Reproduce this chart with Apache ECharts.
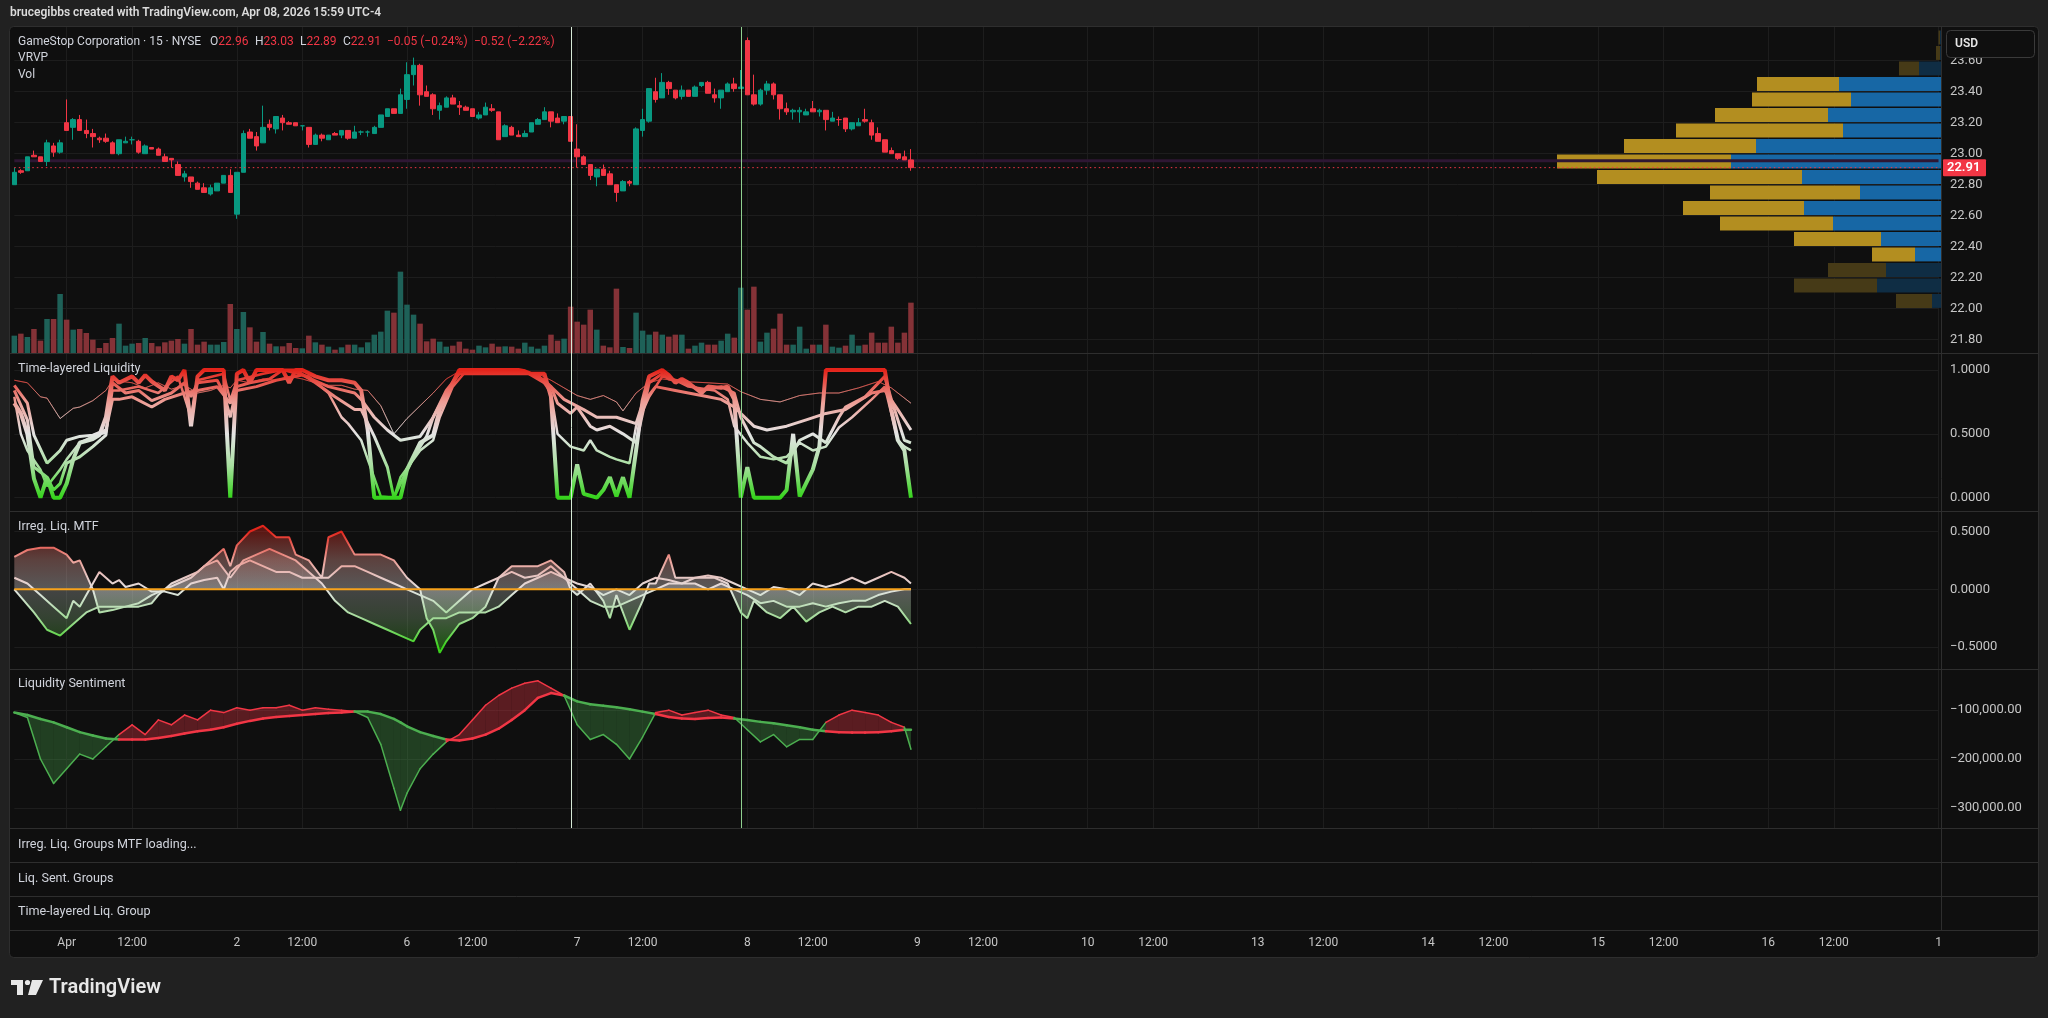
<!DOCTYPE html>
<html><head><meta charset="utf-8">
<script src="https://cdn.jsdelivr.net/npm/echarts@6/dist/echarts.min.js"></script>
<style>html,body{margin:0;padding:0;background:#212121;}#c{width:2048px;height:1018px;}#err{position:absolute;left:300px;top:300px;color:#ff0;font:14px monospace;white-space:pre;z-index:99}</style>
</head><body><div id="c"></div><div id="err"></div>
<script>
// ---------------- DATA ----------------
const opens = [22.80,22.89,22.89,22.99,22.98,22.95,23.05,23.01,23.20,23.17, 23.22,23.15,23.13,23.10,23.10,23.07,23.00,23.07,23.09,23.08, 23.00,23.04,23.03,22.98,22.97,22.93,22.85,22.85,22.81,22.78, 22.74,22.76,22.81,22.86,22.61,22.88,23.14,23.11,23.07,23.19, 23.16,23.23,23.20,23.20,23.18,23.17,23.06,23.12,23.09,23.13, 23.12,23.15,23.10,23.14,23.14,23.13,23.17,23.24,23.29,23.26, 23.35,23.51,23.57,23.40,23.38,23.28,23.30,23.36,23.31,23.30, 23.29,23.23,23.25,23.29,23.27,23.11,23.17,23.12,23.11,23.14, 23.19,23.22,23.27,23.23,23.21,23.24,23.03,22.98,22.93,22.85, 22.90,22.87,22.80,22.76,22.82,22.80,23.15,23.21,23.40,23.36, 23.46,23.41,23.37,23.41,23.37,23.44,23.46,23.38,23.36,23.40, 23.45,23.42,23.73,23.38,23.32,23.41,23.45,23.38,23.29,23.27, 23.27,23.25,23.29,23.27,23.28,23.21,23.22,23.23,23.16,23.18, 23.22,23.20,23.13,23.09,23.02,23.00,22.98,22.96];
const highs = [22.91,22.90,22.98,23.02,22.98,23.09,23.07,23.09,23.35,23.23, 23.25,23.22,23.16,23.11,23.13,23.08,23.09,23.11,23.11,23.09, 23.06,23.04,23.04,23.00,22.97,22.95,22.89,22.85,22.82,22.81, 22.80,22.81,22.86,22.90,22.88,23.15,23.16,23.14,23.31,23.22, 23.24,23.25,23.21,23.20,23.18,23.17,23.13,23.13,23.12,23.14, 23.15,23.15,23.18,23.15,23.15,23.18,23.25,23.29,23.29,23.42, 23.59,23.62,23.58,23.44,23.39,23.33,23.37,23.38,23.34,23.31, 23.29,23.27,23.33,23.32,23.27,23.19,23.18,23.15,23.15,23.20, 23.23,23.30,23.27,23.26,23.24,23.24,23.19,22.99,22.93,22.90, 22.93,22.89,22.80,22.83,22.83,23.17,23.29,23.42,23.49,23.52, 23.47,23.41,23.44,23.41,23.44,23.46,23.47,23.42,23.41,23.46, 23.49,23.54,23.75,23.51,23.42,23.47,23.46,23.38,23.33,23.29, 23.30,23.29,23.34,23.29,23.28,23.27,23.24,23.23,23.20,23.23, 23.29,23.22,23.17,23.09,23.04,23.00,23.02,23.03];
const lows = [22.80,22.87,22.89,22.98,22.95,22.92,22.98,23.00,23.15,23.09, 23.15,23.10,23.04,23.07,23.07,23.00,22.99,23.07,23.06,23.00, 23.00,23.03,22.99,22.95,22.91,22.86,22.82,22.78,22.77,22.75, 22.73,22.76,22.81,22.75,22.58,22.88,23.10,23.02,23.07,23.15, 23.13,23.15,23.19,23.18,23.15,23.04,23.06,23.08,23.09,23.12, 23.10,23.09,23.10,23.12,23.11,23.13,23.17,23.24,23.26,23.26, 23.29,23.44,23.31,23.37,23.25,23.22,23.30,23.32,23.25,23.28, 23.24,23.22,23.25,23.27,23.09,23.11,23.12,23.11,23.11,23.14, 23.19,23.22,23.17,23.20,23.19,23.08,22.91,22.93,22.83,22.79, 22.86,22.80,22.69,22.76,22.79,22.80,23.11,23.20,23.33,23.36, 23.38,23.35,23.35,23.37,23.37,23.43,23.39,23.33,23.29,23.40, 23.40,23.42,23.38,23.31,23.31,23.38,23.35,23.22,23.25,23.22, 23.20,23.25,23.27,23.24,23.15,23.21,23.18,23.14,23.15,23.18, 23.20,23.09,23.08,23.01,23.00,22.96,22.96,22.89];
const closes = [22.88,22.88,22.98,22.98,22.95,23.07,23.01,23.07,23.15,23.22, 23.15,23.13,23.11,23.09,23.08,23.00,23.09,23.08,23.09,23.01, 23.05,23.03,22.99,22.95,22.96,22.86,22.87,22.82,22.77,22.75, 22.78,22.81,22.86,22.75,22.88,23.13,23.10,23.05,23.17,23.17, 23.24,23.20,23.19,23.18,23.18,23.06,23.12,23.10,23.12,23.12, 23.15,23.10,23.14,23.14,23.14,23.17,23.25,23.29,23.26,23.38, 23.51,23.57,23.38,23.37,23.29,23.31,23.36,23.32,23.30,23.28, 23.24,23.25,23.30,23.28,23.09,23.18,23.12,23.11,23.13,23.20, 23.22,23.27,23.21,23.20,23.24,23.08,22.98,22.93,22.86,22.90, 22.86,22.80,22.75,22.82,22.81,23.16,23.22,23.42,23.35,23.46, 23.42,23.36,23.41,23.37,23.43,23.46,23.39,23.36,23.41,23.45, 23.42,23.43,23.38,23.32,23.41,23.45,23.38,23.29,23.27,23.28, 23.28,23.27,23.27,23.28,23.22,23.23,23.22,23.16,23.20,23.20, 23.21,23.12,23.08,23.01,23.00,22.97,22.96,22.91];
const volumes = [156,174,144,216,111,306,306,531,300,210, 216,180,120,45,90,135,264,66,84,90, 135,90,60,96,111,126,84,216,75,102, 75,75,99,441,216,369,231,102,189,84, 60,60,90,45,42,156,96,75,57,30, 51,75,75,51,96,165,192,381,363,732, 435,345,264,105,129,102,57,66,102,39, 30,66,51,84,57,60,57,39,93,57, 39,66,165,111,129,417,282,255,390,210, 66,51,579,54,45,363,201,165,192,165, 147,165,165,39,66,93,75,75,111,174, 138,588,390,597,102,183,219,354,75,75, 237,39,75,75,255,57,48,66,165,66, 75,183,93,93,237,93,183,453];

const slotCount = 295;
const tickBars = [8,18,34,44,60,70,86,96,112,122,138,148,164,174,190,200,216,226,242,252,268,278,294];
const tickLabels = ['Apr','12:00','2','12:00','6','12:00','7','12:00','8','12:00','9','12:00','10','12:00','13','12:00','14','12:00','15','12:00','16','12:00','1'];
const markerBars = [85, 111];

const priceTicks = [21.8,22.0,22.2,22.4,22.6,22.8,23.0,23.2,23.4,23.6];
const pocPrice = 22.955, lastPrice = 22.91;

const vpRowSize = 0.1;
const vpLevels = [23.7,23.6,23.5,23.4,23.3,23.2,23.1,23.0,22.9,22.8,22.7,22.6,22.5,22.4,22.3,22.2,22.1,22.0];
const vpUp     = [10,10,220,1020,900,1130,980,1850,2100,1390,810,1370,1080,600,260,550,640,90];
const vpDown   = [15,40,200,820,990,1130,1670,1320,1740,2050,1500,1210,1130,870,430,580,830,360];
const vpValueArea = [0,0,0,1,1,1,1,1,1,1,1,1,1,1,1,0,0,0];

const tl1 = [[0,0.74],[1,0.66],[2,0.5],[3,0.15],[4,0],[5,0.16],[6,0],[7,0],[8,0.11],[9,0.30],[10,0.43],[12,0.46],[13,0.49],[14,0.63],[15,0.95],[16,0.90],[18,0.95],[19,0.90],[20,0.96],[21,0.91],[23,0.84],[24,0.95],[25,0.92],[26,1.0],[27,0.56],[28,0.95],[29,1.0],[32,1.0],[33,0],[34,0.97],[35,1.0],[36,0.9],[37,1.0],[41,1.0],[42,0.9],[43,1.0],[44,1.0],[46,0.95],[48,0.92],[50,0.92],[52,0.9],[53,0.84],[54,0.53],[55,0],[59,0],[60,0.22],[62,0.43],[64,0.49],[65,0.69],[67,0.9],[68,1.0],[77,1.0],[78,0.99],[79,0.97],[81,0.97],[82,0.79],[83,0],[85,0],[86,0.26],[87,0.03],[89,0],[90,0.06],[91,0.16],[92,0.01],[93,0.16],[94,0],[95,0.37],[96,0.76],[97,0.95],[99,1.0],[100,0.96],[101,0.9],[102,0.93],[103,0.9],[105,0.82],[106,0.87],[108,0.86],[109,0.87],[110,0.77],[111,0],[112,0.24],[113,0],[117,0],[118,0.06],[119,0.5],[120,0.01],[122,0.22],[123,0.4],[124,1.0],[133,1.0],[134,0.69],[135,0.45],[136,0.37],[137,0]];
const tl2 = [[0,0.84],[2,0.61],[3,0.24],[5,0.16],[6,0.06],[7,0.11],[8,0.27],[10,0.32],[12,0.40],[14,0.49],[15,0.90],[17,0.82],[19,0.84],[21,0.76],[24,0.82],[26,0.90],[27,0.79],[28,0.90],[31,0.92],[32,0.82],[33,0.63],[34,0.87],[36,0.90],[39,0.93],[41,1.0],[43,1.0],[46,0.90],[49,0.79],[52,0.69],[53,0.69],[55,0.48],[57,0.24],[58,0],[59,0.11],[61,0.32],[63,0.48],[64,0.63],[66,0.82],[68,0.99],[78,0.99],[79,0.96],[82,0.87],[83,0.74],[85,0.66],[86,0.71],[88,0.56],[89,0.53],[91,0.56],[93,0.50],[95,0.43],[96,0.66],[97,0.90],[99,0.97],[100,0.93],[102,0.91],[105,0.84],[108,0.87],[110,0.82],[111,0.63],[113,0.43],[114,0.40],[116,0.32],[118,0.27],[120,0.45],[122,0.50],[124,0.43],[126,0.63],[127,0.71],[130,0.79],[133,0.95],[134,0.77],[136,0.45],[137,0.43]];
const tl3 = [[0,0.88],[2,0.74],[3,0.49],[5,0.27],[7,0.37],[8,0.45],[10,0.48],[12,0.49],[14,0.53],[15,0.77],[16,0.77],[18,0.79],[21,0.71],[23,0.77],[26,0.82],[28,0.84],[31,0.87],[33,0.74],[34,0.84],[37,0.87],[40,0.92],[44,0.96],[48,0.87],[52,0.82],[53,0.77],[55,0.63],[57,0.53],[59,0.45],[62,0.48],[64,0.63],[66,0.84],[68,0.97],[79,0.97],[81,0.92],[84,0.77],[87,0.69],[89,0.63],[92,0.63],[95,0.58],[96,0.74],[98,0.87],[101,0.84],[103,0.82],[106,0.79],[108,0.77],[110,0.71],[113,0.56],[115,0.53],[118,0.56],[121,0.61],[124,0.66],[127,0.69],[131,0.82],[133,0.84],[135,0.69],[137,0.53]];
const tl4 = [[0,0.79],[1,0.50],[2,0.37],[4,0.22],[5,0.09],[7,0.22],[8,0.30],[10,0.43],[12,0.48],[14,0.51],[15,0.84],[16,0.84],[19,0.87],[22,0.82],[25,0.95],[27,0.63],[28,0.92],[32,0.97],[33,0.76],[34,0.92],[38,0.97],[41,1.0],[45,0.95],[48,0.82],[50,0.63],[51,0.58],[53,0.45],[54,0.30],[56,0.01],[58,0],[59,0.16],[62,0.37],[64,0.45],[65,0.63],[67,0.87],[69,0.99],[80,0.97],[82,0.82],[83,0.50],[85,0.40],[87,0.37],[88,0.45],[89,0.37],[91,0.32],[92,0.30],[94,0.27],[95,0.56],[97,0.79],[99,0.95],[101,0.92],[103,0.87],[107,0.84],[109,0.77],[110,0.56],[112,0.43],[114,0.32],[116,0.30],[118,0.32],[120,0.43],[122,0.37],[124,0.40],[126,0.55],[128,0.63],[131,0.77],[133,0.87],[135,0.45],[136,0.40],[137,0.37]];
const tl5 = [[0,0.92],[2,0.9],[4,0.79],[5,0.78],[7,0.62],[9,0.70],[10,0.71],[12,0.76],[14,0.84],[15,0.92],[18,0.9],[20,0.86],[22,0.9],[24,0.85],[26,0.88],[28,0.82],[30,0.84],[32,0.88],[33,0.86],[34,0.92],[36,0.9],[38,0.93],[40,0.92],[42,0.95],[44,0.93],[46,0.9],[48,0.88],[50,0.88],[52,0.85],[54,0.84],[56,0.72],[58,0.5],[60,0.62],[62,0.72],[64,0.82],[66,0.93],[68,0.99],[70,1.0],[76,1.0],[78,0.98],[80,0.97],[82,0.92],[84,0.86],[86,0.8],[88,0.77],[90,0.8],[92,0.75],[93,0.68],[95,0.82],[97,0.9],[99,0.93],[102,0.91],[106,0.9],[109,0.89],[111,0.83],[114,0.77],[117,0.75],[120,0.8],[123,0.82],[126,0.82],[129,0.86],[132,0.91],[134,0.86],[137,0.74]];

const irFast = [[0,0.28],[2,0.34],[4,0.36],[6,0.36],[8,0.30],[9,0.23],[10,0.25],[12,0.0],[13,-0.2],[15,-0.18],[17,-0.15],[19,-0.15],[21,-0.12],[22,-0.05],[24,0.05],[26,0.1],[28,0.15],[30,0.25],[32,0.35],[33,0.2],[34,0.38],[36,0.5],[38,0.55],[40,0.45],[42,0.45],[43,0.3],[45,0.25],[47,0.1],[48,0.45],[50,0.5],[52,0.3],[54,0.3],[56,0.3],[58,0.25],[60,0.1],[62,0.0],[63,-0.25],[64,-0.35],[65,-0.55],[66,-0.45],[68,-0.3],[70,-0.25],[72,-0.15],[74,0.1],[76,0.2],[78,0.2],[80,0.2],[82,0.25],[84,0.15],[85,0.0],[86,-0.05],[88,0.05],[90,-0.1],[91,-0.25],[92,-0.05],[94,-0.35],[96,-0.1],[97,0.05],[98,0.05],[100,0.3],[101,0.1],[103,0.1],[105,0.1],[107,0.1],[109,0.05],[111,-0.2],[112,-0.25],[113,-0.1],[115,-0.2],[117,-0.25],[119,-0.15],[121,-0.28],[123,-0.2],[125,-0.15],[127,-0.2],[129,-0.15],[131,-0.15],[133,-0.1],[135,-0.15],[137,-0.3]];
const irMid = [[0,0.1],[2,0.05],[4,-0.05],[6,-0.15],[8,-0.25],[9,-0.1],[10,-0.15],[11,-0.05],[12,0.05],[13,0.15],[14,0.1],[15,0.05],[16,0.08],[17,0.02],[19,0.05],[21,-0.02],[23,-0.02],[25,-0.05],[27,0.05],[29,0.08],[31,0.1],[32,0.0],[33,0.15],[34,0.2],[36,0.25],[38,0.2],[40,0.15],[42,0.15],[44,0.1],[46,0.1],[48,0.1],[50,0.2],[52,0.2],[54,0.15],[56,0.1],[58,0.05],[60,0.0],[62,-0.05],[64,-0.1],[66,-0.2],[68,-0.1],[70,0.0],[72,0.05],[74,0.1],[76,0.15],[78,0.1],[80,0.12],[82,0.2],[84,0.1],[86,0.05],[88,0.02],[90,-0.05],[92,0.0],[94,-0.05],[96,0.05],[98,0.1],[100,0.08],[102,0.05],[104,0.1],[106,0.12],[108,0.1],[110,0.05],[112,0.0],[114,-0.05],[116,0.02],[118,0.0],[120,-0.05],[122,0.05],[124,0.02],[126,0.05],[128,0.1],[130,0.05],[132,0.1],[134,0.15],[136,0.1],[137,0.05]];
const irSlow = [[0,0.0],[3,-0.2],[5,-0.35],[7,-0.4],[9,-0.3],[11,-0.2],[13,-0.15],[15,-0.15],[17,-0.15],[19,-0.12],[21,-0.05],[23,0.0],[25,0.05],[27,0.1],[29,0.2],[31,0.25],[33,0.1],[35,0.25],[37,0.3],[39,0.35],[41,0.3],[43,0.25],[45,0.15],[47,0.05],[49,-0.1],[51,-0.2],[53,-0.25],[55,-0.3],[57,-0.35],[59,-0.4],[61,-0.45],[62,-0.35],[64,-0.25],[66,-0.25],[68,-0.2],[70,-0.2],[72,-0.2],[74,-0.15],[76,-0.05],[78,0.05],[80,0.1],[82,0.15],[84,0.1],[86,0.0],[88,-0.1],[90,-0.15],[92,-0.15],[94,-0.1],[96,-0.05],[98,0.0],[100,0.05],[102,0.05],[104,0.05],[106,0.0],[108,0.05],[110,0.0],[112,-0.05],[114,-0.12],[116,-0.1],[118,-0.15],[120,-0.15],[122,-0.12],[124,-0.15],[126,-0.12],[128,-0.1],[130,-0.1],[132,-0.05],[134,-0.02],[136,0.0],[137,0.0]];
const irZero = [[0,0],[137,0]];

const sentBars = [0,2,4,6,8,10,12,14,16,18,20,22,24,26,28,30,32,34,36,38,40,42,44,46,48,50,52,54,56,58,59,60,62,64,66,68,70,72,74,76,78,80,82,84,86,88,90,92,94,96,98,100,102,104,106,108,110,112,114,116,118,120,122,124,126,128,130,132,134,136,137];
const sentSlow = [-105000,-110000,-118000,-125000,-135000,-145000,-152000,-158000,-160000,-160000,-160000,-157000,-153000,-148000,-143000,-140000,-135000,-128000,-122000,-117000,-114000,-112000,-110000,-108000,-106000,-105000,-103000,-103000,-108000,-118000,-125000,-133000,-145000,-153000,-160000,-162000,-158000,-150000,-138000,-120000,-100000,-75000,-65000,-70000,-82000,-88000,-91000,-94000,-98000,-103000,-108000,-114000,-117000,-118000,-116000,-115000,-117000,-120000,-124000,-127000,-131000,-135000,-140000,-143000,-145000,-146000,-146000,-145000,-143000,-140000,-140000];
const sentFast = [-105000,-115000,-200000,-250000,-220000,-190000,-200000,-175000,-150000,-130000,-150000,-120000,-130000,-110000,-120000,-100000,-105000,-95000,-100000,-95000,-95000,-90000,-100000,-95000,-98000,-100000,-103000,-115000,-170000,-260000,-305000,-270000,-220000,-190000,-165000,-150000,-120000,-90000,-70000,-55000,-45000,-40000,-55000,-70000,-130000,-160000,-150000,-170000,-200000,-155000,-105000,-100000,-110000,-105000,-100000,-110000,-115000,-140000,-165000,-150000,-175000,-160000,-160000,-125000,-110000,-100000,-105000,-110000,-125000,-135000,-180000];

// ---------------- LAYOUT ----------------
const FONT = 'Roboto, "Open Sans", Arial, sans-serif';
const X0 = 14.3, XR = 1938.5;
const P = {price:[27,353], tl:[353,511], ir:[511,669], ls:[669,828]};
const GRID_C = '#1d1d1d', SEP_C = '#2e2e2e', AX_C = '#c6c6c6';
const UP = '#089981', DN = '#f23645';

const cats = Array.from({length: slotCount}, (_, i) => String(i));
const tickMap = {}; tickBars.forEach((b, k) => tickMap[b] = tickLabels[k]);
const isTick = (i) => tickMap[i] !== undefined;

function gridAt(r){ return {left: X0, right: 2048 - XR, top: r[0], height: r[1]-r[0]}; }
function catAxis(gi, labels){
  return {type:'category', gridIndex:gi, data:cats.slice(), boundaryGap:false,
    axisLine:{show:false}, axisTick:{show:false},
    axisLabel:{show:labels, interval:isTick, formatter:(v,i)=>tickMap[i]||'', color:AX_C, fontSize:12, margin:7, fontFamily:FONT},
    splitLine:{show:!labels, interval:isTick, lineStyle:{color:GRID_C, width:1}}};
}
function valAxis(gi, min, max, ticks, fmt){
  return {type:'value', gridIndex:gi, position:'right', min:min, max:max,
    axisLine:{show:false}, axisTick:{show:false, customValues:ticks},
    axisLabel:{customValues:ticks, formatter:fmt, color:AX_C, fontSize:13, margin:11.5, fontFamily:FONT},
    splitLine:{show:true, lineStyle:{color:GRID_C, width:1}}};
}
const minus = (v, s) => (v < 0 ? '\u2212' : '') + s;
const fmt4 = v => minus(v, Math.abs(v).toFixed(4));
const fmtK = v => minus(v, Math.abs(v).toLocaleString('en-US',{minimumFractionDigits:2, maximumFractionDigits:2}));

const pMax = 23 + (153.7 - P.price[0]) / 155, pMin = 23 - (P.price[1] - 153.7) / 155;
const volMax = 2934;
const tlMax = (497.7 - P.tl[0]) / 127.7, tlMin = -(P.tl[1] - 497.7) / 127.7;
const irMax = (589.3 - P.ir[0]) / 115.6, irMin = -(P.ir[1] - 589.3) / 115.6;
const lsMax = -200000 + (759 - P.ls[0]) / 48.85 * 100000, lsMin = -200000 - (P.ls[1] - 759) / 48.85 * 100000;

const candleData = opens.map((o, i) => [o, closes[i], lows[i], highs[i]]);
const volData = volumes.map((v, i) => ({value: v, itemStyle: {color: closes[i] >= opens[i] ? '#1e6158' : '#843237'}}));
const vpData = vpLevels.map((l, i) => [l, vpUp[i], vpDown[i], vpValueArea[i]]);
const sentData = [];
for (let k = 0; k < sentBars.length - 1; k++) sentData.push([sentBars[k], sentSlow[k], sentFast[k], sentBars[k+1], sentSlow[k+1], sentFast[k+1]]);

function tlSeries(d, w, op){ return {type:'line', xAxisIndex:1, yAxisIndex:2, data:d, symbol:'none', lineStyle:{width:w, opacity:op}}; }
function irSeries(d, w, area){ const s = {type:'line', xAxisIndex:2, yAxisIndex:3, data:d, symbol:'none', lineStyle:{width:w}}; if (area) s.areaStyle = {opacity: area}; return s; }
const hLine = (p) => [[0, p], [slotCount - 1, p]];

const option = {
  animation:false, backgroundColor:'#212121',
  grid:[gridAt(P.price), gridAt(P.tl), gridAt(P.ir), gridAt(P.ls), {left:X0, right:2048-XR, top:929, height:1}, {left:10, right:107, top:P.price[0], height:P.price[1]-P.price[0]}],
  xAxis:[catAxis(0,false), catAxis(1,false), catAxis(2,false), catAxis(3,false), catAxis(4,true),
    {type:'value', gridIndex:5, min:0, max:19310, inverse:true, show:false}],
  yAxis:[valAxis(0, pMin, pMax, priceTicks, v=>v.toFixed(2)),
    {type:'value', gridIndex:0, min:0, max:volMax, show:false},
    valAxis(1, tlMin, tlMax, [0,0.5,1], fmt4),
    valAxis(2, irMin, irMax, [-0.5,0,0.5], fmt4),
    valAxis(3, lsMin, lsMax, [-300000,-200000,-100000], fmtK),
    {type:'value', gridIndex:5, min:pMin, max:pMax, show:false},
    {type:'value', gridIndex:4, min:0, max:1, show:false}],
  visualMap:[
    {type:'continuous', show:false, dimension:1, seriesIndex:[2,3,4,5,6], min:0, max:1, inRange:{color:['#35d41b','#a8dfa0','#e4e4e4','#ee9e96','#e4231a']}},
    {type:'continuous', show:false, dimension:1, seriesIndex:[7,8,9], min:-0.5, max:0.5, inRange:{color:['#3bd11c','#a3dc99','#e2e2e2','#eba199','#e3261c']}}
  ],
  series:[
    {type:'bar', xAxisIndex:0, yAxisIndex:1, data:volData, barWidth:5.5, z:1},
    {type:'candlestick', xAxisIndex:0, yAxisIndex:0, data:candleData, barWidth:5, z:3,
      itemStyle:{color:UP, color0:DN, borderColor:UP, borderColor0:DN, borderWidth:1}},
    tlSeries(tl5, 1, 0.6), tlSeries(tl3, 3, 1), tlSeries(tl4, 2.5, 1), tlSeries(tl2, 3, 1), tlSeries(tl1, 4, 1),
    irSeries(irSlow, 2, 0.25), irSeries(irMid, 2, 0), irSeries(irFast, 2, 0.35),
    {type:'line', xAxisIndex:2, yAxisIndex:3, data:irZero, symbol:'none', lineStyle:{color:'#f7a21b', width:2}, z:4},
    {type:'custom', xAxisIndex:3, yAxisIndex:4, data:sentData,
      renderItem:function(params, api){
        const x0=api.value(0), s0=api.value(1), j0=api.value(2), x1=api.value(3), s1=api.value(4), j1=api.value(5);
        const S0=api.coord([x0,s0]), S1=api.coord([x1,s1]), J0=api.coord([x0,j0]), J1=api.coord([x1,j1]);
        const up = (j0 + j1) > (s0 + s1);
        const c = up ? '#f23645' : '#4caf50';
        return {type:'group', children:[
          {type:'polygon', shape:{points:[S0,S1,J1,J0]}, style:{fill: up ? 'rgba(242,54,69,0.33)' : 'rgba(76,175,80,0.3)'}},
          {type:'line', shape:{x1:J0[0],y1:J0[1],x2:J1[0],y2:J1[1]}, style:{stroke:c, lineWidth:1.5, lineCap:'round'}},
          {type:'line', shape:{x1:S0[0],y1:S0[1],x2:S1[0],y2:S1[1]}, style:{stroke:c, lineWidth:2.5, lineCap:'round'}}]};
      }},
    {type:'custom', xAxisIndex:5, yAxisIndex:5, data:vpData, z:2,
      renderItem:function(params, api){
        const lo=api.value(0), up=api.value(1), dn=api.value(2), va=api.value(3);
        const pR=api.coord([0, lo + vpRowSize]), pU=api.coord([up, lo]), pD=api.coord([up+dn, lo]);
        const top=pR[1]+0.8, h=pU[1]-pR[1]-1.6;
        return {type:'group', children:[
          {type:'rect', shape:{x:pU[0], y:top, width:pR[0]-pU[0], height:h}, style:{fill: va ? '#1767a5' : '#0f2d44'}},
          {type:'rect', shape:{x:pD[0], y:top, width:pU[0]-pD[0], height:h}, style:{fill: va ? '#b38e20' : '#463a17'}}]};
      }},
    {type:'line', xAxisIndex:0, yAxisIndex:0, data:hLine(pocPrice), symbol:'none', lineStyle:{color:'#2e1733', width:3}, z:2},
    {type:'line', xAxisIndex:0, yAxisIndex:0, data:hLine(lastPrice), symbol:'none', lineStyle:{color:DN, width:1, type:[1.5,3]}, z:4}
  ]
};

const chart = echarts.init(document.getElementById('c'));
function dbg(e){ document.getElementById('err').textContent += (e && e.stack ? e.stack : String(e)).slice(0,900) + '\n'; }
try { chart.setOption(option); } catch(e) { dbg(e); }

const LEG = '12px ' + FONT;
const T = (x, y, text, font, fill, z) => ({type:'text', x:x, y:y, z:z||20, silent:true, style:{text:text, fill:fill||'#d1d4dc', font:font||('12.6px ' + FONT), verticalAlign:'middle'}});
const L = (x1, y1, x2, y2, c, w, z) => ({type:'line', z:z||5, silent:true, shape:{x1:x1,y1:y1,x2:x2,y2:y2}, style:{stroke:c, lineWidth:w||1}});
const els = [];
try {
els.push({type:'rect', z:-10, shape:{x:9.5, y:26.5, width:2029, height:931, r:4}, style:{fill:'#0f0f0f', stroke:SEP_C, lineWidth:1}});
[353,511,669,828,862,896,930].forEach(y => els.push(L(9.5, y+0.5, 2038.5, y+0.5, SEP_C, 1, 5)));
els.push(L(1941.5, 27, 1941.5, 930, SEP_C, 1, 5));
const mColors = ['#d6e9d6', '#8fd08f'];
markerBars.forEach((b, k) => { const x = Math.round(chart.convertToPixel({xAxisIndex:0}, b)) + 0.5; els.push(L(x, 27, x, 828, mColors[k], 1, 6)); });
els.push(T(10, 13, 'brucegibbs created with TradingView.com, Apr 08, 2026 15:59 UTC-4', '600 12px ' + FONT, '#dcdcdc'));
const rich = {g:{fill:'#d1d4dc', font:LEG}, r:{fill:'#f23645', font:LEG}};
const RT = (x, txt) => ({type:'text', x:x, y:42, z:20, silent:true, style:{text:txt, rich:rich, font:LEG, verticalAlign:'middle'}});
els.push(T(18, 42, 'GameStop Corporation \u00b7 15 \u00b7 NYSE', LEG));
els.push(RT(210, '{g|O}{r|22.96}')); els.push(RT(255, '{g|H}{r|23.03}')); els.push(RT(300, '{g|L}{r|22.89}')); els.push(RT(343, '{g|C}{r|22.91}'));
els.push(RT(387, '{r|\u22120.05 (\u22120.24%)}')); els.push(RT(474, '{r|\u22120.52 (\u22122.22%)}'));
els.push(T(18, 58, 'VRVP', LEG)); els.push(T(18, 75, 'Vol', LEG));
els.push(T(18, 369, 'Time-layered Liquidity')); els.push(T(18, 527, 'Irreg. Liq. MTF')); els.push(T(18, 684, 'Liquidity Sentiment'));
els.push(T(18, 845, 'Irreg. Liq. Groups MTF loading...')); els.push(T(18, 879, 'Liq. Sent. Groups')); els.push(T(18, 912, 'Time-layered Liq. Group'));
els.push({type:'rect', z:30, shape:{x:1946.5, y:30.5, width:88, height:27, r:4}, style:{fill:'#0f0f0f', stroke:'#3a3a3a', lineWidth:1}});
els.push(T(1955, 44, 'USD', '600 12px ' + FONT, '#e6e6e6', 31));
const yLast = chart.convertToPixel({yAxisIndex:0}, lastPrice);
els.push({type:'rect', z:30, shape:{x:1943, y:yLast-8.5, width:43, height:17, r:1}, style:{fill:'#f23645'}});
els.push(T(1947, yLast, lastPrice.toFixed(2), '600 13px ' + FONT, '#ffffff', 31));
els.push({type:'rect', z:20, shape:{x:11, y:980, width:12, height:5}, style:{fill:'#e8e8e8'}});
els.push({type:'rect', z:20, shape:{x:17, y:980, width:6, height:15}, style:{fill:'#e8e8e8'}});
els.push({type:'circle', z:20, shape:{cx:27.5, cy:982.5, r:2.6}, style:{fill:'#e8e8e8'}});
els.push({type:'polygon', z:20, shape:{points:[[32,980],[43,980],[36,995],[28,995]]}, style:{fill:'#e8e8e8'}});
els.push(T(49, 988, 'TradingView', '600 20px ' + FONT, '#e8e8e8'));
chart.setOption({graphic:{elements:els}});
} catch(e) { dbg(e); }
</script></body></html>
